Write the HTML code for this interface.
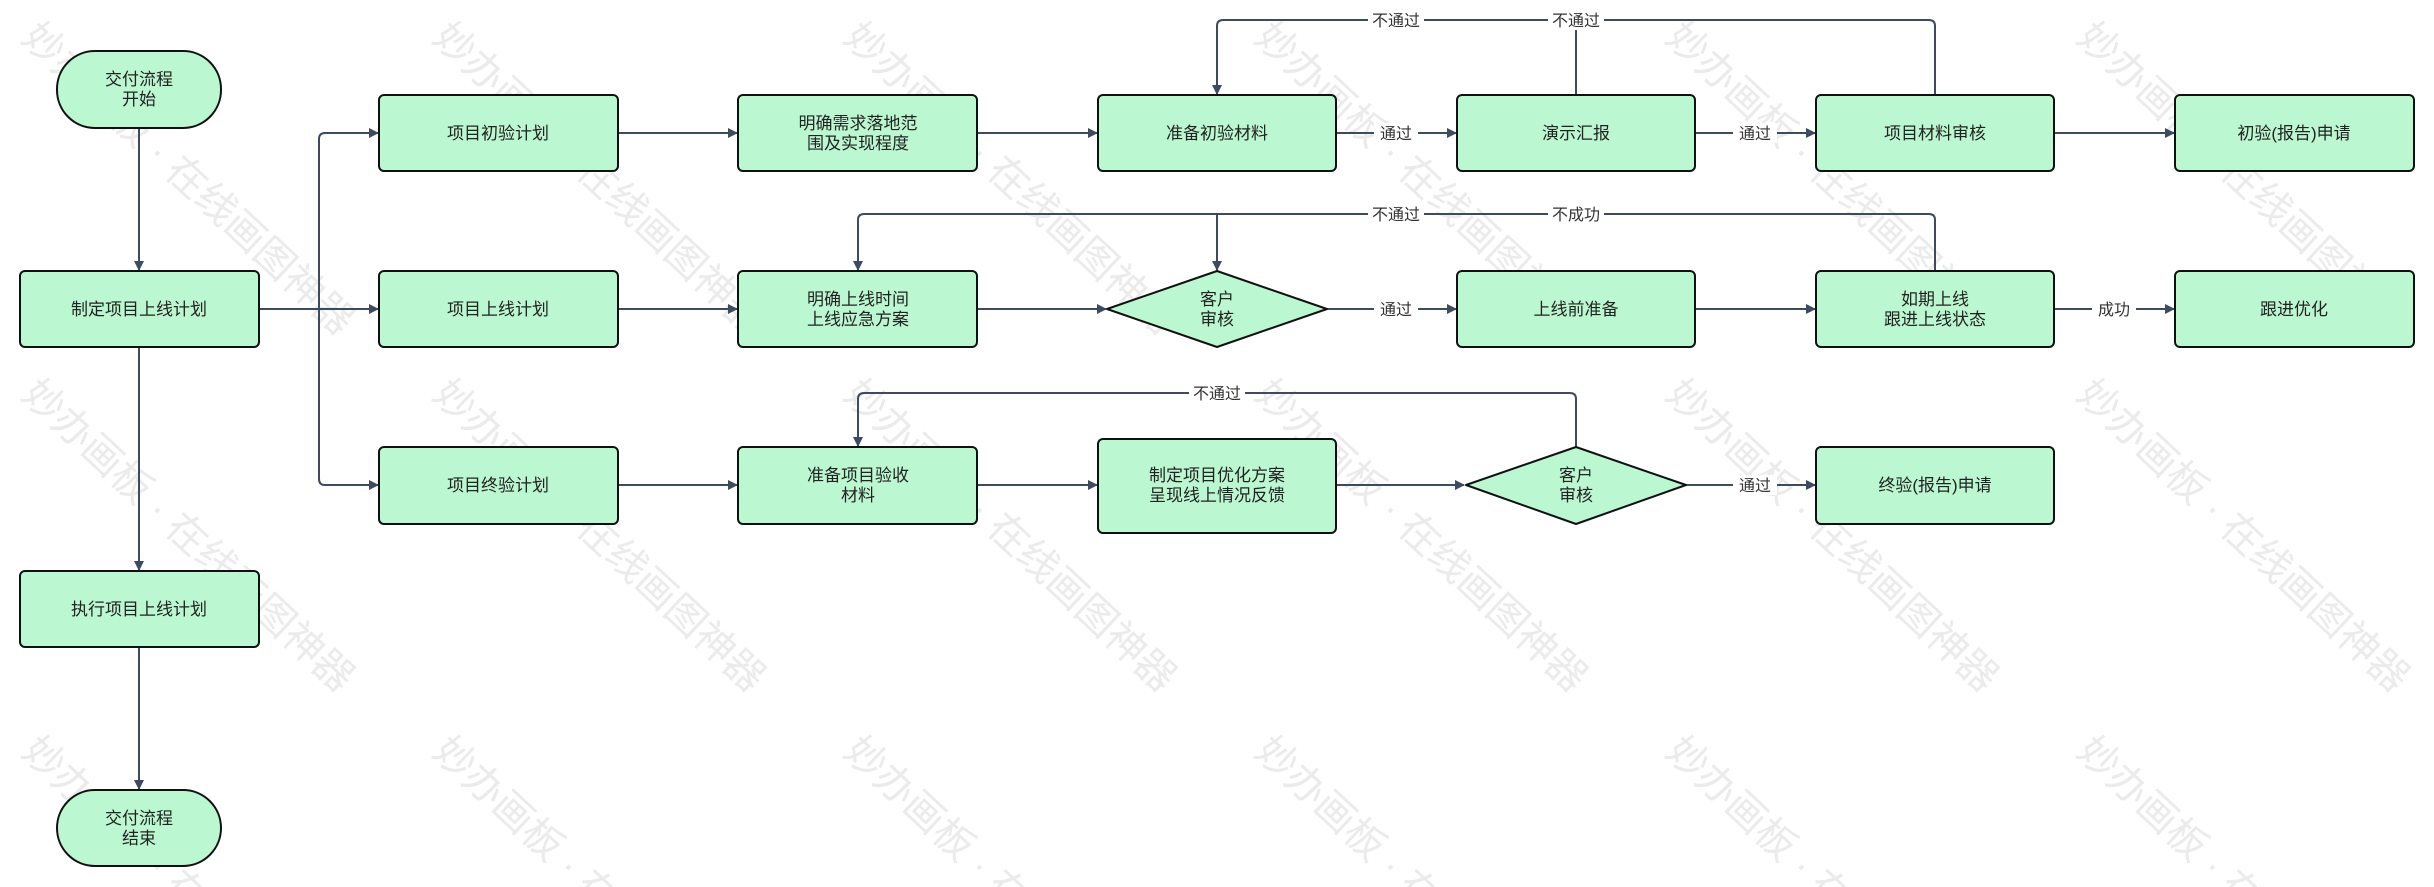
<!DOCTYPE html>
<html><head><meta charset="utf-8"><style>
html,body{margin:0;padding:0;background:#fff;width:2434px;height:887px;overflow:hidden;}
svg{display:block;overflow:hidden;font-family:"Liberation Sans","Noto Sans CJK SC",sans-serif;}
.b{fill:#bbf7d0;stroke:#111;stroke-width:2;}
.t{font-size:17px;fill:#222;text-anchor:middle;}
.l{stroke:#3e4a60;stroke-width:2;fill:none;}
.lb{font-size:16px;fill:#333;text-anchor:middle;}
.w{font-size:40px;fill:#ebebeb;}
</style></head><body>
<svg width="2434" height="887" viewBox="0 0 2434 887" xmlns="http://www.w3.org/2000/svg">
<defs><marker id="a" markerWidth="10" markerHeight="10" refX="9" refY="5" orient="auto" markerUnits="userSpaceOnUse"><path d="M0,0 L10,5 L0,10 z" fill="#3e4a60"/></marker></defs>
<g>
<text class="w" transform="translate(20,40) rotate(43)">妙办画板 · 在线画图神器</text>
<text class="w" transform="translate(431,40) rotate(43)">妙办画板 · 在线画图神器</text>
<text class="w" transform="translate(842,40) rotate(43)">妙办画板 · 在线画图神器</text>
<text class="w" transform="translate(1253,40) rotate(43)">妙办画板 · 在线画图神器</text>
<text class="w" transform="translate(1664,40) rotate(43)">妙办画板 · 在线画图神器</text>
<text class="w" transform="translate(2075,40) rotate(43)">妙办画板 · 在线画图神器</text>
<text class="w" transform="translate(20,397) rotate(43)">妙办画板 · 在线画图神器</text>
<text class="w" transform="translate(431,397) rotate(43)">妙办画板 · 在线画图神器</text>
<text class="w" transform="translate(842,397) rotate(43)">妙办画板 · 在线画图神器</text>
<text class="w" transform="translate(1253,397) rotate(43)">妙办画板 · 在线画图神器</text>
<text class="w" transform="translate(1664,397) rotate(43)">妙办画板 · 在线画图神器</text>
<text class="w" transform="translate(2075,397) rotate(43)">妙办画板 · 在线画图神器</text>
<text class="w" transform="translate(20,754) rotate(43)">妙办画板 · 在线画图神器</text>
<text class="w" transform="translate(431,754) rotate(43)">妙办画板 · 在线画图神器</text>
<text class="w" transform="translate(842,754) rotate(43)">妙办画板 · 在线画图神器</text>
<text class="w" transform="translate(1253,754) rotate(43)">妙办画板 · 在线画图神器</text>
<text class="w" transform="translate(1664,754) rotate(43)">妙办画板 · 在线画图神器</text>
<text class="w" transform="translate(2075,754) rotate(43)">妙办画板 · 在线画图神器</text>
</g>
<g class="l">
<path d="M139,128 V270" marker-end="url(#a)"/>
<path d="M139,347 V570" marker-end="url(#a)"/>
<path d="M139,647 V789" marker-end="url(#a)"/>
<path d="M259,309 H378" marker-end="url(#a)"/>
<path d="M319,309 V139 Q319,133 325,133 H378" marker-end="url(#a)"/>
<path d="M319,309 V479 Q319,485 325,485 H378" marker-end="url(#a)"/>
<path d="M618,133 H737" marker-end="url(#a)"/>
<path d="M618,309 H737" marker-end="url(#a)"/>
<path d="M618,485 H737" marker-end="url(#a)"/>
<path d="M977,133 H1097" marker-end="url(#a)"/>
<path d="M977,309 H1106" marker-end="url(#a)"/>
<path d="M977,485 H1097" marker-end="url(#a)"/>
<path d="M1336,133 H1456" marker-end="url(#a)"/>
<path d="M1327,309 H1456" marker-end="url(#a)"/>
<path d="M1336,485 H1464" marker-end="url(#a)"/>
<path d="M1695,133 H1815" marker-end="url(#a)"/>
<path d="M1695,309 H1815" marker-end="url(#a)"/>
<path d="M1686,485 H1815" marker-end="url(#a)"/>
<path d="M2054,133 H2174" marker-end="url(#a)"/>
<path d="M2054,309 H2174" marker-end="url(#a)"/>
<path d="M1935,95 V26 Q1935,20 1929,20 H1223 Q1217,20 1217,26 V94" marker-end="url(#a)"/>
<path d="M1576,95 V20"/>
<path d="M1935,271 V220 Q1935,214 1929,214 H864 Q858,214 858,220 V270" marker-end="url(#a)"/>
<path d="M1217,214 V270" marker-end="url(#a)"/>
<path d="M1576,447 V399 Q1576,393 1570,393 H864 Q858,393 858,399 V446" marker-end="url(#a)"/>
</g>
<g>
<rect x="1374" y="123" width="44" height="20" fill="#fff"/><text class="lb" x="1396" y="139">通过</text>
<rect x="1733" y="123" width="44" height="20" fill="#fff"/><text class="lb" x="1755" y="139">通过</text>
<rect x="1374" y="299" width="44" height="20" fill="#fff"/><text class="lb" x="1396" y="315">通过</text>
<rect x="2092" y="299" width="44" height="20" fill="#fff"/><text class="lb" x="2114" y="315">成功</text>
<rect x="1733" y="475" width="44" height="20" fill="#fff"/><text class="lb" x="1755" y="491">通过</text>
<rect x="1368" y="10" width="56" height="20" fill="#fff"/><text class="lb" x="1396" y="26">不通过</text>
<rect x="1548" y="10" width="56" height="20" fill="#fff"/><text class="lb" x="1576" y="26">不通过</text>
<rect x="1368" y="204" width="56" height="20" fill="#fff"/><text class="lb" x="1396" y="220">不通过</text>
<rect x="1548" y="204" width="56" height="20" fill="#fff"/><text class="lb" x="1576" y="220">不成功</text>
<rect x="1189" y="383" width="56" height="20" fill="#fff"/><text class="lb" x="1217" y="399">不通过</text>
</g>
<rect class="b" x="57" y="51" width="164" height="77" rx="38"/>
<text class="t" x="139" y="85">交付流程</text><text class="t" x="139" y="105">开始</text>
<rect class="b" x="20" y="271" width="239" height="76" rx="5"/><text class="t" x="139" y="315">制定项目上线计划</text>
<rect class="b" x="20" y="571" width="239" height="76" rx="5"/><text class="t" x="139" y="615">执行项目上线计划</text>
<rect class="b" x="57" y="790" width="164" height="76" rx="38"/>
<text class="t" x="139" y="824">交付流程</text><text class="t" x="139" y="844">结束</text>

<rect class="b" x="379" y="95" width="239" height="76" rx="5"/><text class="t" x="498" y="139">项目初验计划</text>
<rect class="b" x="379" y="271" width="239" height="76" rx="5"/><text class="t" x="498" y="315">项目上线计划</text>
<rect class="b" x="379" y="447" width="239" height="77" rx="5"/><text class="t" x="498" y="491">项目终验计划</text>

<rect class="b" x="738" y="95" width="239" height="76" rx="5"/><text class="t" x="858" y="129">明确需求落地范</text><text class="t" x="858" y="149">围及实现程度</text>
<rect class="b" x="738" y="271" width="239" height="76" rx="5"/><text class="t" x="858" y="305">明确上线时间</text><text class="t" x="858" y="325">上线应急方案</text>
<rect class="b" x="738" y="447" width="239" height="77" rx="5"/><text class="t" x="858" y="481">准备项目验收</text><text class="t" x="858" y="501">材料</text>

<rect class="b" x="1098" y="95" width="238" height="76" rx="5"/><text class="t" x="1217" y="139">准备初验材料</text>
<path class="b" d="M1217,271 L1327,309 L1217,347 L1107,309 Z" stroke-linejoin="round"/><text class="t" x="1217" y="305">客户</text><text class="t" x="1217" y="325">审核</text>
<rect class="b" x="1098" y="439" width="238" height="94" rx="5"/><text class="t" x="1217" y="481">制定项目优化方案</text><text class="t" x="1217" y="501">呈现线上情况反馈</text>

<rect class="b" x="1457" y="95" width="238" height="76" rx="5"/><text class="t" x="1576" y="139">演示汇报</text>
<rect class="b" x="1457" y="271" width="238" height="76" rx="5"/><text class="t" x="1576" y="315">上线前准备</text>
<path class="b" d="M1576,447 L1686,485 L1576,524 L1466,485 Z" stroke-linejoin="round"/><text class="t" x="1576" y="481">客户</text><text class="t" x="1576" y="501">审核</text>

<rect class="b" x="1816" y="95" width="238" height="76" rx="5"/><text class="t" x="1935" y="139">项目材料审核</text>
<rect class="b" x="1816" y="271" width="238" height="76" rx="5"/><text class="t" x="1935" y="305">如期上线</text><text class="t" x="1935" y="325">跟进上线状态</text>
<rect class="b" x="1816" y="447" width="238" height="77" rx="5"/><text class="t" x="1935" y="491">终验(报告)申请</text>

<rect class="b" x="2175" y="95" width="239" height="76" rx="5"/><text class="t" x="2294" y="139">初验(报告)申请</text>
<rect class="b" x="2175" y="271" width="239" height="76" rx="5"/><text class="t" x="2294" y="315">跟进优化</text>
</svg>
</body></html>
